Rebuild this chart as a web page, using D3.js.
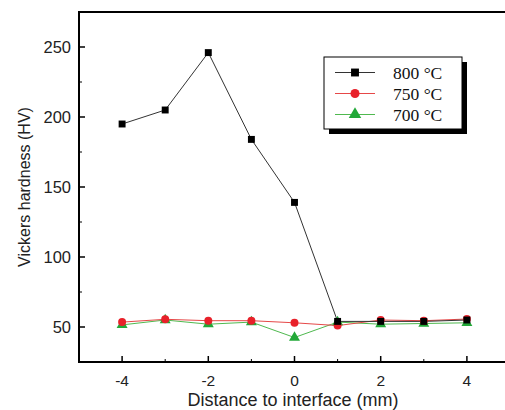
<!DOCTYPE html>
<html>
<head>
<meta charset="utf-8">
<script src="https://cdn.jsdelivr.net/npm/d3@7"></script>
<style>
  body { margin: 0; background: #fff; }
  svg { display: block; }
</style>
</head>
<body>
<svg id="chart" width="505" height="410"></svg>
<script>
// data
var distance = [-4, -3, -2, -1, 0, 1, 2, 3, 4];
var hv800 = [195, 205, 246, 184, 139, 54, 54, 54, 55];
var hv750 = [53.5, 55.5, 54.5, 54.5, 53, 51, 55, 54.5, 55.7];
var hv700 = [51.5, 55, 52, 53.5, 42.5, 53.5, 52, 52.5, 53];
var xTicks = [-4, -2, 0, 2, 4];
var yTicks = [50, 100, 150, 200, 250];
var seriesNames = ["800 °C", "750 °C", "700 °C"];

var svg = d3.select("#chart");

var plotL = 79, plotT = 12, plotR = 510, plotB = 362;

var x = d3.scaleLinear().domain([-5, 5]).range([plotL, plotR]);
var y = d3.scaleLinear().domain([25, 275]).range([plotB, plotT]);

var series = [
  { name: seriesNames[0], values: hv800, color: "#000", line: "#333", shape: d3.symbolSquare, size: 48 },
  { name: seriesNames[1], values: hv750, color: "#e8212a", line: "#e64848", shape: d3.symbolCircle, size: 50 },
  { name: seriesNames[2], values: hv700, color: "#22a838", line: "#4fb94f", shape: d3.symbolTriangle, size: 52 }
];

// frame: left, bottom, top
svg.append("path")
  .attr("d", "M" + plotR + "," + plotT + "H" + plotL + "V" + plotB + "H" + plotR)
  .attr("fill", "none")
  .attr("stroke", "#000")
  .attr("stroke-width", 2);

// y ticks (inward) + minor
var yMinor = d3.range(75, 275, 50);
svg.append("g").selectAll("line.major").data(yTicks).enter().append("line")
  .attr("x1", plotL).attr("x2", plotL + 6)
  .attr("y1", function(d) { return y(d); }).attr("y2", function(d) { return y(d); })
  .attr("stroke", "#000").attr("stroke-width", 1.5);
svg.append("g").selectAll("line.minor").data(yMinor).enter().append("line")
  .attr("x1", plotL).attr("x2", plotL + 3)
  .attr("y1", function(d) { return y(d); }).attr("y2", function(d) { return y(d); })
  .attr("stroke", "#000").attr("stroke-width", 1);
svg.append("g").selectAll("text").data(yTicks).enter().append("text")
  .attr("x", plotL - 8)
  .attr("y", function(d) { return y(d) + 5.5; })
  .attr("text-anchor", "end")
  .attr("font-family", "Liberation Sans, Arial, sans-serif")
  .attr("font-size", 16.5)
  .attr("fill", "#222")
  .text(function(d) { return d; });

// x ticks (inward) + minor
var xMinor = d3.range(-3, 5, 2);
svg.append("g").selectAll("line.major").data(xTicks).enter().append("line")
  .attr("y1", plotB).attr("y2", plotB - 6)
  .attr("x1", function(d) { return x(d); }).attr("x2", function(d) { return x(d); })
  .attr("stroke", "#000").attr("stroke-width", 1.5);
svg.append("g").selectAll("line.minor").data(xMinor).enter().append("line")
  .attr("y1", plotB).attr("y2", plotB - 3)
  .attr("x1", function(d) { return x(d); }).attr("x2", function(d) { return x(d); })
  .attr("stroke", "#000").attr("stroke-width", 1);
svg.append("g").selectAll("text").data(xTicks).enter().append("text")
  .attr("x", function(d) { return x(d); })
  .attr("y", 386)
  .attr("text-anchor", "middle")
  .attr("font-family", "Liberation Sans, Arial, sans-serif")
  .attr("font-size", 15.5)
  .attr("fill", "#222")
  .text(function(d) { return d; });

// axis titles
svg.append("text")
  .attr("x", 293).attr("y", 406)
  .attr("text-anchor", "middle")
  .attr("font-family", "Liberation Sans, Arial, sans-serif")
  .attr("font-size", 18)
  .attr("fill", "#222")
  .text("Distance to interface (mm)");
svg.append("text")
  .attr("transform", "translate(29.5,187) rotate(-90)")
  .attr("text-anchor", "middle")
  .attr("font-family", "Liberation Sans, Arial, sans-serif")
  .attr("font-size", 16)
  .attr("fill", "#222")
  .text("Vickers hardness (HV)");

// lines and markers
var line = d3.line()
  .x(function(d, i) { return x(distance[i]); })
  .y(function(d) { return y(d); });

series.slice().reverse().forEach(function(s) {
  svg.append("path")
    .attr("d", line(s.values))
    .attr("fill", "none")
    .attr("stroke", s.line)
    .attr("stroke-width", 1);
});
series.slice().reverse().forEach(function(s) {
  svg.append("g").selectAll("path").data(s.values).enter().append("path")
    .attr("transform", function(d, i) { return "translate(" + x(distance[i]) + "," + y(d) + ")"; })
    .attr("d", d3.symbol().type(s.shape).size(s.size))
    .attr("fill", s.color);
});

// legend
var lg = svg.append("g").attr("transform", "translate(324,57)");
lg.append("rect").attr("x", 5).attr("y", 5).attr("width", 138).attr("height", 72).attr("fill", "#000");
lg.append("rect").attr("x", 0).attr("y", 0).attr("width", 138).attr("height", 72)
  .attr("fill", "#fff").attr("stroke", "#000").attr("stroke-width", 1);
series.forEach(function(s, i) {
  var ry = 15.5 + i * 21;
  lg.append("line").attr("x1", 11).attr("x2", 51).attr("y1", ry).attr("y2", ry)
    .attr("stroke", s.line).attr("stroke-width", 1);
  lg.append("path").attr("transform", "translate(31," + ry + ")")
    .attr("d", d3.symbol().type(s.shape).size(s.size * 1.3))
    .attr("fill", s.color);
  lg.append("text").attr("x", 69).attr("y", ry + 6)
    .attr("font-family", "Liberation Serif, Times New Roman, serif")
    .attr("font-size", 17.5)
    .attr("fill", "#111")
    .text(s.name);
});
</script>
</body>
</html>
